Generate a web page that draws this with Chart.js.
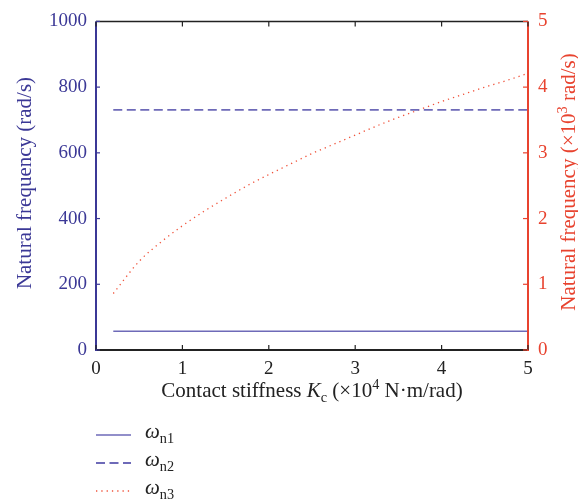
<!DOCTYPE html>
<html>
<head>
<meta charset="utf-8">
<script src="https://cdn.jsdelivr.net/npm/chart.js@4.4.1/dist/chart.umd.min.js"></script>
<style>
html,body{margin:0;padding:0;background:#fff;}
#wrap{width:578px;height:504px;position:relative;}
</style>
</head>
<body>
<div id="wrap"><canvas id="c" width="578" height="504"></canvas></div>
<script>
// ---- data ----
const kcValues = [0.2, 0.5, 0.75, 1.0, 1.25, 1.5, 1.75, 2.0, 2.25, 2.5, 2.75, 3.0, 3.25, 3.5, 3.75, 4.0, 4.25, 4.5, 4.75, 5.0];
const wn1 = [57, 57, 57, 57, 57, 57, 57, 57, 57, 57, 57, 57, 57, 57, 57, 57, 57, 57, 57, 57];          // rad/s (left axis)
const wn2 = [731, 731, 731, 731, 731, 731, 731, 731, 731, 731, 731, 731, 731, 731, 731, 731, 731, 731, 731, 731]; // rad/s (left axis)
const wn3 = [0.86, 1.35, 1.64, 1.89, 2.11, 2.31, 2.50, 2.67, 2.83, 2.99, 3.13, 3.27, 3.41, 3.54, 3.66, 3.78, 3.89, 4.00, 4.10, 4.21]; // x10^3 rad/s (right axis)
const xTicks = [0, 1, 2, 3, 4, 5];
const yLeftTicks = [0, 200, 400, 600, 800, 1000];
const yRightTicks = [0, 1, 2, 3, 4, 5];
const seriesLabels = ['n1', 'n2', 'n3'];

const FONT = '"Liberation Serif", "DejaVu Serif", serif';
const BLUE = '#3b3896';
const LINEBLUE = '#6e6ab8';
const RED = '#e8432f';
const DOTRED = '#f0533b';
const TICKSIZE = 19;
const TITLESIZE = 21;

const toPts = (ys) => kcValues.map((x, i) => ({x: x, y: ys[i]}));

function drawRich(ctx, segs, x, y, align, size, color) {
  const parts = segs.map(s => {
    const fs = (s.sub || s.sup) ? size * 0.68 : size;
    const f = (s.it ? 'italic ' : '') + fs + 'px ' + FONT;
    ctx.font = f;
    return {t: s.t, f: f, w: ctx.measureText(s.t).width, dy: s.sub ? size * 0.26 : (s.sup ? -size * 0.36 : 0)};
  });
  const total = parts.reduce((a, p) => a + p.w, 0);
  let cx = align === 'center' ? x - total / 2 : (align === 'right' ? x - total : x);
  ctx.fillStyle = color;
  ctx.textBaseline = 'alphabetic';
  ctx.textAlign = 'left';
  parts.forEach(p => { ctx.font = p.f; ctx.fillText(p.t, cx, y + p.dy); cx += p.w; });
}

const decor = {
  id: 'decor',
  afterDraw(chart) {
    const ctx = chart.ctx;
    const a = chart.chartArea;
    const sx = chart.scales.x, sy = chart.scales.y, sy1 = chart.scales.y1;
    ctx.save();
    // frame
    ctx.lineCap = 'butt';
    ctx.strokeStyle = '#222'; ctx.lineWidth = 1.5;
    ctx.beginPath(); ctx.moveTo(a.left, a.top); ctx.lineTo(a.right, a.top); ctx.stroke();
    ctx.lineWidth = 2;
    ctx.beginPath(); ctx.moveTo(a.left, a.bottom); ctx.lineTo(a.right, a.bottom); ctx.stroke();
    ctx.strokeStyle = BLUE; ctx.lineWidth = 2;
    ctx.beginPath(); ctx.moveTo(a.left, a.top); ctx.lineTo(a.left, a.bottom + 1); ctx.stroke();
    ctx.strokeStyle = RED;
    ctx.beginPath(); ctx.moveTo(a.right, a.top); ctx.lineTo(a.right, a.bottom + 1); ctx.stroke();
    // inward ticks
    ctx.lineWidth = 1.2;
    ctx.strokeStyle = '#222';
    xTicks.forEach(v => {
      const px = sx.getPixelForValue(v);
      ctx.beginPath(); ctx.moveTo(px, a.bottom); ctx.lineTo(px, a.bottom - 5); ctx.stroke();
      ctx.beginPath(); ctx.moveTo(px, a.top); ctx.lineTo(px, a.top + 5); ctx.stroke();
    });
    ctx.strokeStyle = BLUE;
    yLeftTicks.forEach(v => {
      const py = sy.getPixelForValue(v);
      ctx.beginPath(); ctx.moveTo(a.left, py); ctx.lineTo(a.left + 4, py); ctx.stroke();
    });
    ctx.strokeStyle = RED;
    yRightTicks.forEach(v => {
      const py = sy1.getPixelForValue(v);
      ctx.beginPath(); ctx.moveTo(a.right, py); ctx.lineTo(a.right - 5, py); ctx.stroke();
    });
    // axis titles
    const cx = (a.left + a.right) / 2;
    drawRich(ctx, [{t: 'Contact stiffness '}, {t: 'K', it: true}, {t: 'c', sub: true}, {t: ' (×10'}, {t: '4', sup: true}, {t: ' N·m/rad)'}], cx, 397, 'center', TITLESIZE, '#222');
    ctx.save();
    ctx.translate(31, 183);
    ctx.rotate(-Math.PI / 2);
    drawRich(ctx, [{t: 'Natural frequency (rad/s)'}], 0, 0, 'center', TITLESIZE, BLUE);
    ctx.restore();
    ctx.save();
    ctx.translate(575, 182);
    ctx.rotate(-Math.PI / 2);
    drawRich(ctx, [{t: 'Natural frequency (×10'}, {t: '3', sup: true}, {t: ' rad/s)'}], 0, 0, 'center', TITLESIZE, RED);
    ctx.restore();
    // legend
    const ly = [435, 463, 491];
    chart.data.datasets.forEach((ds, i) => {
      ctx.strokeStyle = ds.borderColor;
      ctx.lineWidth = ds.borderWidth;
      ctx.setLineDash(ds.borderDash || []);
      ctx.beginPath(); ctx.moveTo(96, ly[i]); ctx.lineTo(131, ly[i]); ctx.stroke();
      ctx.setLineDash([]);
      drawRich(ctx, [{t: 'ω', it: true}, {t: ds.label, sub: true}], 145, ly[i] + 3, 'left', 21, '#222');
    });
    ctx.restore();
  }
};

new Chart(document.getElementById('c'), {
  type: 'line',
  data: {
    datasets: [
      {label: seriesLabels[0], data: toPts(wn1), yAxisID: 'y', borderColor: LINEBLUE, borderWidth: 1.3, pointRadius: 0, fill: false},
      {label: seriesLabels[1], data: toPts(wn2), yAxisID: 'y', borderColor: LINEBLUE, borderWidth: 1.8, borderDash: [9, 4.5], pointRadius: 0, fill: false},
      {label: seriesLabels[2], data: toPts(wn3), yAxisID: 'y1', borderColor: DOTRED, borderWidth: 1.3, borderDash: [1.3, 4], pointRadius: 0, fill: false, cubicInterpolationMode: 'monotone'}
    ]
  },
  options: {
    responsive: false,
    animation: false,
    devicePixelRatio: 1,
    layout: {padding: {top: 16, left: 0, right: 0, bottom: 0}},
    plugins: {legend: {display: false}, tooltip: {enabled: false}},
    scales: {
      x: {
        type: 'linear', min: 0, max: 5,
        afterBuildTicks: s => { s.ticks = xTicks.map(v => ({value: v})); },
        grid: {display: false, drawTicks: false}, border: {display: false},
        ticks: {color: '#222', font: {family: FONT, size: TICKSIZE}, padding: 8, maxRotation: 0, callback: v => String(v)},
        afterFit: s => { s.height = 154; }
      },
      y: {
        type: 'linear', position: 'left', min: 0, max: 1000,
        afterBuildTicks: s => { s.ticks = yLeftTicks.map(v => ({value: v})); },
        grid: {display: false, drawTicks: false}, border: {display: false},
        ticks: {color: BLUE, font: {family: FONT, size: TICKSIZE}, padding: 9, callback: v => String(v)},
        afterFit: s => { s.width = 96; }
      },
      y1: {
        type: 'linear', position: 'right', min: 0, max: 5,
        afterBuildTicks: s => { s.ticks = yRightTicks.map(v => ({value: v})); },
        grid: {display: false, drawTicks: false}, border: {display: false},
        ticks: {color: RED, font: {family: FONT, size: TICKSIZE}, padding: 10, callback: v => String(v)},
        afterFit: s => { s.width = 50; }
      }
    }
  },
  plugins: [decor]
});
</script>
</body>
</html>
